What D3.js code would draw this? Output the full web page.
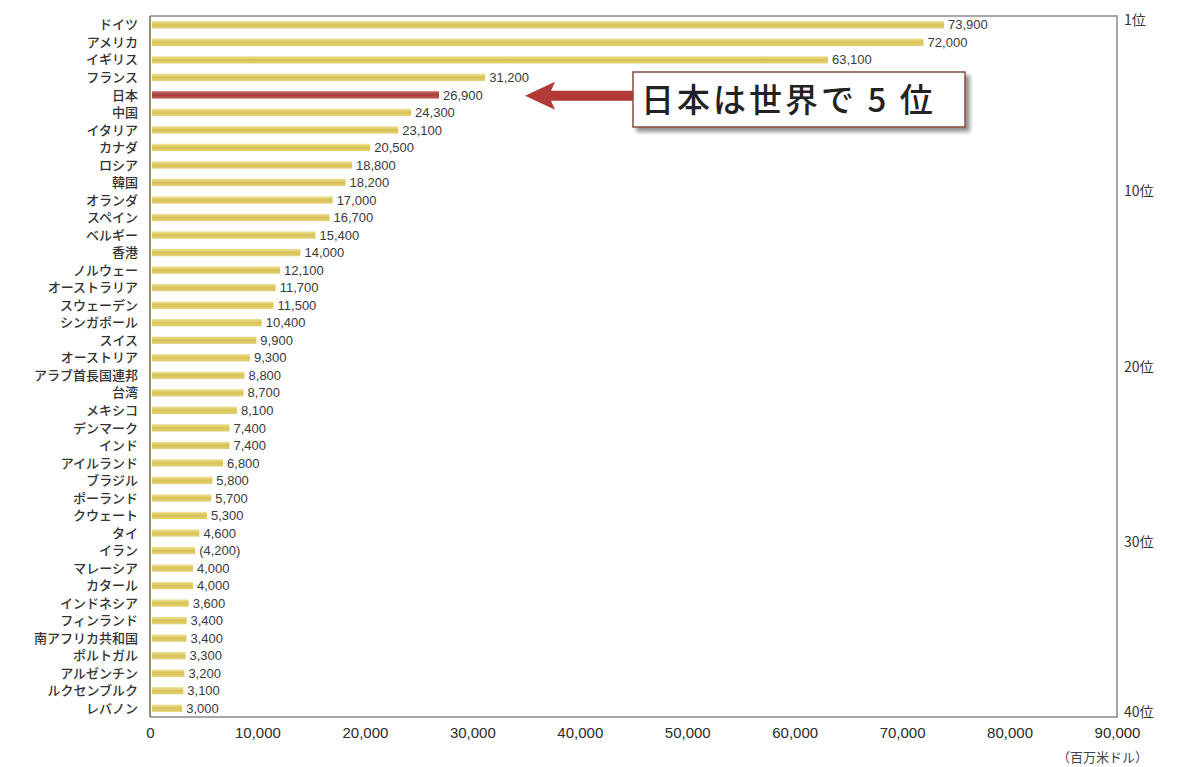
<!DOCTYPE html>
<html><head><meta charset="utf-8">
<script src="https://cdn.jsdelivr.net/npm/d3@7"></script>
<style>
html,body{margin:0;padding:0;background:#fff;}
svg{display:block;font-family:"Noto Sans CJK JP","Noto Sans",sans-serif;}
</style></head>
<body><svg id="chart" width="1178" height="767"></svg>
<script>
const categories = ["ドイツ","アメリカ","イギリス","フランス","日本","中国","イタリア","カナダ","ロシア","韓国",
"オランダ","スペイン","ベルギー","香港","ノルウェー","オーストラリア","スウェーデン","シンガポール","スイス","オーストリア",
"アラブ首長国連邦","台湾","メキシコ","デンマーク","インド","アイルランド","ブラジル","ポーランド","クウェート","タイ",
"イラン","マレーシア","カタール","インドネシア","フィンランド","南アフリカ共和国","ポルトガル","アルゼンチン","ルクセンブルク","レバノン"];
const values = [73900,72000,63100,31200,26900,24300,23100,20500,18800,18200,
17000,16700,15400,14000,12100,11700,11500,10400,9900,9300,
8800,8700,8100,7400,7400,6800,5800,5700,5300,4600,
4200,4000,4000,3600,3400,3400,3300,3200,3100,3000];
const estimatedCategories = ["イラン"];
const highlightCategory = "日本";
const xTicks = [0,10000,20000,30000,40000,50000,60000,70000,80000,90000];
const rankLabels = ["1位","10位","20位","30位","40位"];
const rankIndex = [0,9,19,29,39];
const unitLabel = "（百万米ドル）";
const calloutText = "日本は世界で 5 位";

const svg = d3.select("#chart");
const m = {left:150, right:1117, top:16, bottom:717};
const x = d3.scaleLinear().domain([0,90000]).range([m.left, m.right]);
const y = d3.scaleBand().domain(categories).range([m.top, m.bottom]).paddingInner(0.58).paddingOuter(0.29);

const defs = svg.append("defs");
const g1 = defs.append("linearGradient").attr("id","gy").attr("x1",0).attr("x2",0).attr("y1",0).attr("y2",1);
g1.append("stop").attr("offset","0%").attr("stop-color","#efe39a");
g1.append("stop").attr("offset","50%").attr("stop-color","#d8c254");
g1.append("stop").attr("offset","100%").attr("stop-color","#e4d27a");
const g2 = defs.append("linearGradient").attr("id","gr").attr("x1",0).attr("x2",0).attr("y1",0).attr("y2",1);
g2.append("stop").attr("offset","0%").attr("stop-color","#c7706a");
g2.append("stop").attr("offset","50%").attr("stop-color","#a93d3a");
g2.append("stop").attr("offset","100%").attr("stop-color","#bd5a55");
const sh = defs.append("filter").attr("id","shadow").attr("x","-10%").attr("y","-10%").attr("width","130%").attr("height","140%");
sh.append("feGaussianBlur").attr("in","SourceAlpha").attr("stdDeviation",2);
sh.append("feOffset").attr("dx",4).attr("dy",4).attr("result","b");
sh.append("feComponentTransfer").append("feFuncA").attr("type","linear").attr("slope",0.45);
const mg = sh.append("feMerge"); mg.append("feMergeNode"); mg.append("feMergeNode").attr("in","SourceGraphic");

// frame
svg.append("path")
  .attr("d",`M${m.left},${m.top}H${m.right}V${m.bottom}H${m.left}`)
  .attr("fill","none").attr("stroke","#8a8a8a").attr("stroke-width",1.5);

// bars
svg.append("g").selectAll("rect").data(categories).join("rect")
  .attr("x", x(0)+2).attr("y", d=>y(d))
  .attr("width", (d,i)=>x(values[i])-x(0)-2)
  .attr("height", y.bandwidth())
  .attr("fill", d=> d===highlightCategory ? "url(#gr)" : "url(#gy)");

svg.append("line").attr("x1",m.left).attr("x2",m.left).attr("y1",m.top).attr("y2",m.bottom)
  .attr("stroke","#6f6a45").attr("stroke-width",1.5);

// value labels
svg.append("g").selectAll("text").data(categories).join("text")
  .attr("x",(d,i)=>x(values[i])+4)
  .attr("y",d=>y(d)+y.bandwidth()/2)
  .attr("dy","0.36em")
  .attr("font-size",13).attr("fill","#3a3a3a")
  .attr("font-family","Liberation Sans, Arial, sans-serif")
  .text((d,i)=>{const s=d3.format(",")(values[i]); return estimatedCategories.includes(d)?`(${s})`:s;});

// category labels
svg.append("g").selectAll("text").data(categories).join("text")
  .attr("x",138).attr("y",d=>y(d)+y.bandwidth()/2).attr("dy","0.36em")
  .attr("text-anchor","end").attr("font-size",13).attr("font-weight",500).attr("fill","#333")
  .text(d=>d);

// x axis
const ax = svg.append("g").attr("transform",`translate(0,${m.bottom})`)
  .call(d3.axisBottom(x).tickValues(xTicks).tickSize(0).tickPadding(10).tickFormat(d3.format(",")));
ax.select(".domain").remove();
ax.selectAll("text").attr("font-size",15).attr("fill","#2a2a2a").attr("font-family","Liberation Sans, Arial, sans-serif");

svg.append("text").attr("x",1148).attr("y",762).attr("text-anchor","end")
  .attr("font-size",13).attr("fill","#444").text(unitLabel);

// rank labels
svg.append("g").selectAll("text").data(rankLabels).join("text")
  .attr("x",1124)
  .attr("y",(d,i)=> i===0 ? m.top+4 : Math.min(m.top + y.step()*(rankIndex[i]+1), 712))
  .attr("dy","0.36em").attr("font-size",14).attr("fill","#333").text(d=>d);

// callout arrow
const jy = y(highlightCategory)+y.bandwidth()/2;
const ay = jy + 1;
const tipX = x(values[categories.indexOf(highlightCategory)]) + 86;
svg.append("path")
  .attr("d",`M${tipX},${ay} L${tipX+30},${ay-14} L${tipX+26},${ay-5} L${640},${ay-5} L${640},${ay+5} L${tipX+26},${ay+5} L${tipX+30},${ay+14} Z`)
  .attr("fill","#b13a37");

// callout box
svg.append("rect").attr("x",633).attr("y",72).attr("width",332).attr("height",55)
  .attr("fill","#fff").attr("stroke","#8b4a3f").attr("stroke-width",1.5).attr("filter","url(#shadow)");
svg.append("text").attr("x",641).attr("y",100).attr("dy","0.36em")
  .attr("font-size",33).attr("font-weight",500).attr("letter-spacing",3).attr("fill","#222").text(calloutText);
</script></body></html>
